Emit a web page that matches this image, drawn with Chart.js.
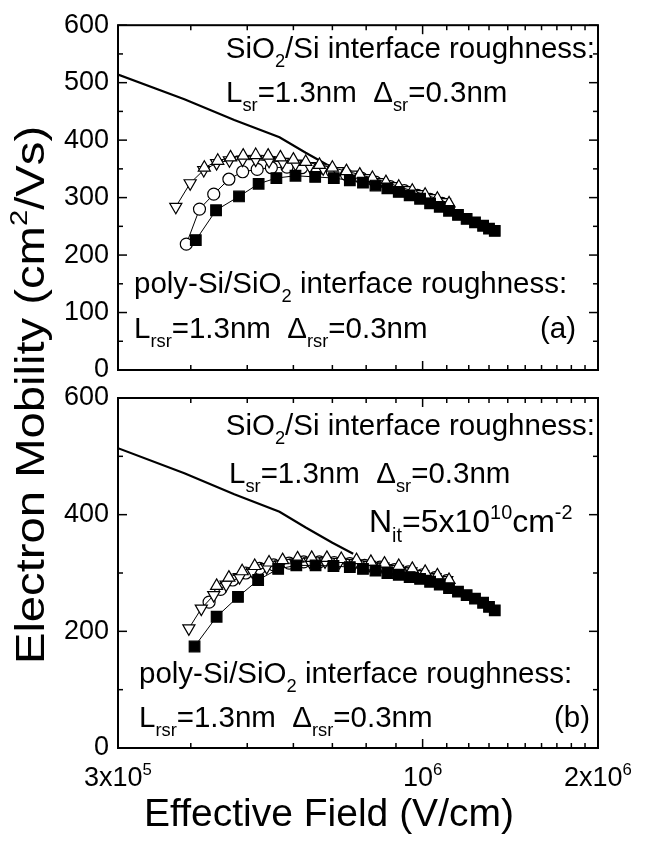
<!DOCTYPE html>
<html lang="en">
<head>
<meta charset="UTF-8">
<title>Electron mobility vs effective field</title>
<script src="https://cdn.jsdelivr.net/npm/chart.js"></script>
<style>
  html, body { margin: 0; padding: 0; background: #fff; }
  #wrap { position: relative; width: 658px; height: 842px; }
  #wrap canvas { position: absolute; left: 0; top: 0; }
</style>
</head>
<body>
<div id="wrap">
  <canvas id="chartA" width="658" height="842"></canvas>
  <canvas id="chartB" width="658" height="842"></canvas>
</div>
<script>
// universal mobility curve (solid line), same in both panels
const univField = [3.0e5, 3.9e5, 4.75e5, 5.68e5, 6.3e5, 7.0e5, 7.6e5];
const univMob   = [514, 471, 435, 405, 378, 352, 333];

// panel (a)
const aSqField = [4.08e5, 4.42e5, 4.84e5, 5.23e5, 5.61e5, 6.05e5, 6.54e5, 7.04e5, 7.5e5, 7.9e5, 8.3e5, 8.7e5, 9.1e5, 9.5e5, 9.9e5, 1.03e6, 1.07e6, 1.11e6, 1.15e6, 1.19e6, 1.23e6, 1.27e6, 1.30e6, 1.33e6];
const aSqMob   = [226, 278, 302, 324, 334, 338, 336, 334, 330, 326, 321, 316, 310, 304, 298, 290, 284, 277, 270, 263, 257, 251, 246, 242];
const aCiField = [3.93e5, 4.14e5, 4.38e5, 4.65e5, 4.91e5, 5.2e5, 5.5e5, 5.85e5, 6.2e5, 6.6e5, 7.0e5, 7.4e5, 7.85e5, 8.3e5, 8.8e5, 9.3e5, 9.8e5, 1.03e6, 1.08e6];
const aCiMob   = [219, 280, 306, 332, 345, 349, 352, 353, 352, 349, 345, 340, 334, 327, 319, 312, 304, 297, 290];
const aUpField = [4.22e5, 4.45e5, 4.68e5, 4.92e5, 5.17e5, 5.43e5, 5.7e5, 6.0e5, 6.3e5, 6.65e5, 7.0e5, 7.4e5, 7.8e5, 8.2e5, 8.65e5, 9.1e5, 9.6e5, 1.01e6, 1.06e6, 1.11e6];
const aUpMob   = [352, 364, 370, 373, 374, 373, 370, 366, 362, 357, 352, 346, 340, 334, 327, 319, 312, 305, 298, 290];
const aDnField = [3.77e5, 3.99e5, 4.21e5, 4.43e5, 4.66e5, 4.91e5, 5.17e5, 5.45e5, 5.75e5, 6.05e5, 6.4e5, 6.75e5, 7.15e5, 7.55e5, 8.0e5, 8.45e5, 8.9e5, 9.4e5, 9.9e5, 1.04e6, 1.09e6];
const aDnMob   = [284, 325, 348, 360, 365, 366, 366, 364, 362, 359, 355, 351, 346, 340, 334, 327, 320, 313, 306, 299, 292];

// panel (b), Nit = 5e10 cm^-2
const bSqField = [4.06e5, 4.43e5, 4.82e5, 5.22e5, 5.65e5, 6.07e5, 6.55e5, 7.03e5, 7.5e5, 7.9e5, 8.3e5, 8.7e5, 9.1e5, 9.5e5, 9.9e5, 1.03e6, 1.07e6, 1.11e6, 1.15e6, 1.19e6, 1.23e6, 1.27e6, 1.30e6, 1.33e6];
const bSqMob   = [174, 225, 259, 288, 307, 313, 313, 312, 310, 307, 304, 300, 297, 293, 290, 285, 280, 274, 268, 262, 256, 249, 242, 236];
const bCiField = [4.3e5, 4.5e5, 4.72e5, 4.97e5, 5.25e5, 5.55e5, 5.9e5, 6.25e5, 6.65e5, 7.05e5, 7.5e5, 7.95e5, 8.45e5, 8.95e5, 9.45e5, 1.0e6, 1.05e6, 1.1e6];
const bCiMob   = [250, 272, 288, 300, 308, 314, 317, 319, 319, 318, 316, 313, 310, 306, 302, 297, 292, 287];
const bUpField = [4.43e5, 4.65e5, 4.9e5, 5.15e5, 5.45e5, 5.75e5, 6.1e5, 6.45e5, 6.85e5, 7.25e5, 7.7e5, 8.15e5, 8.6e5, 9.1e5, 9.6e5, 1.01e6, 1.06e6, 1.11e6];
const bUpMob   = [278, 292, 303, 312, 318, 322, 325, 326, 326, 324, 322, 319, 316, 312, 307, 302, 296, 288];
const bDnField = [3.97e5, 4.17e5, 4.38e5, 4.6e5, 4.85e5, 5.1e5, 5.4e5, 5.7e5, 6.05e5, 6.4e5, 6.8e5, 7.2e5, 7.65e5, 8.1e5, 8.55e5, 9.05e5, 9.55e5, 1.0e6, 1.05e6, 1.1e6];
const bDnMob   = [205, 239, 262, 280, 293, 303, 310, 315, 318, 320, 320, 319, 317, 314, 311, 307, 303, 298, 293, 288];

// axes
const xLabelTicks = [3e5, 1e6, 2e6];
const xMinorTicks = [4e5, 5e5, 6e5, 7e5, 8e5, 9e5, 1.1e6, 1.2e6, 1.3e6, 1.4e6, 1.5e6, 1.6e6, 1.7e6, 1.8e6, 1.9e6];

const FONT = '"Liberation Sans", Arial, Helvetica, sans-serif';

function pts(xs, ys) { return xs.map((v, i) => ({ x: v, y: ys[i] })); }

// draw text with sub/superscripts; parts = [[text, ''|'sub'|'sup'], ...]
function drawRich(ctx, parts, x, y, size, align) {
  const fontFor = k => (k ? size * 0.62 : size) + 'px ' + FONT;
  const widths = parts.map(([t, k]) => { ctx.font = fontFor(k); return ctx.measureText(t).width; });
  const total = widths.reduce((s, w) => s + w, 0);
  let cx = align === 'right' ? x - total : align === 'center' ? x - total / 2 : x;
  ctx.textAlign = 'left';
  ctx.textBaseline = 'alphabetic';
  ctx.fillStyle = '#000';
  parts.forEach(([t, k], i) => {
    ctx.font = fontFor(k);
    const dy = k === 'sub' ? size * 0.3 : k === 'sup' ? -size * 0.42 : 0;
    ctx.fillText(t, cx, y + dy);
    cx += widths[i];
  });
}

function datasetsFor(sqX, sqY, ciX, ciY, upX, upY, dnX, dnY) {
  const common = { showLine: true, borderColor: '#000', borderWidth: 1, pointBorderWidth: 1.2 };
  return [
    Object.assign({ data: pts(sqX, sqY), pointStyle: 'rect', pointRadius: 7.5, pointBackgroundColor: '#000' }, common),
    Object.assign({ data: pts(upX, upY), pointStyle: 'triangle', pointRadius: 7, pointBackgroundColor: '#fff' }, common),
    Object.assign({ data: pts(dnX, dnY), pointStyle: 'triangle', pointRotation: 180, pointRadius: 7, pointBackgroundColor: '#fff' }, common),
    Object.assign({ data: pts(ciX, ciY), pointStyle: 'circle', pointRadius: 6, pointBackgroundColor: '#fff' }, common),
    { data: pts(univField, univMob), showLine: true, borderColor: '#000', borderWidth: 2.2, pointRadius: 0 }
  ];
}

// frame with inward ticks on all four sides, plus the panel's texts
const panelPlugin = {
  id: 'panel',
  afterDraw(chart, args, opts) {
    const { ctx, chartArea: a, scales: { x, y } } = chart;
    ctx.save();
    ctx.strokeStyle = '#000';
    ctx.lineWidth = 1.5;
    const seg = (x1, y1, x2, y2) => { ctx.beginPath(); ctx.moveTo(x1, y1); ctx.lineTo(x2, y2); ctx.stroke(); };
    for (let v = 0; v <= 600; v += opts.yMinor) {
      const py = y.getPixelForValue(v);
      const len = v % opts.yMajor === 0 ? 9 : 5;
      seg(a.left, py, a.left + len, py);
      seg(a.right, py, a.right - len, py);
    }
    xMinorTicks.forEach(v => {
      const px = x.getPixelForValue(v);
      seg(px, a.bottom, px, a.bottom - 5);
      seg(px, a.top, px, a.top + 5);
    });
    xLabelTicks.forEach(v => {
      const px = x.getPixelForValue(v);
      seg(px, a.bottom, px, a.bottom - 9);
      seg(px, a.top, px, a.top + 9);
    });
    ctx.lineWidth = 2;
    ctx.strokeRect(a.left, a.top, a.right - a.left, a.bottom - a.top);
    opts.texts.forEach(t => drawRich(ctx, t.parts, t.x, t.y, t.size, t.align));
    if (opts.drawAxes) {
      xLabelTicks.forEach(v => {
        const px = x.getPixelForValue(v);
        const e = Math.floor(Math.log10(v));
        const m = Math.round(v / Math.pow(10, e));
        const parts = m === 1 ? [['10', ''], [String(e), 'sup']] : [[m + 'x10', ''], [String(e), 'sup']];
        drawRich(ctx, parts, px, 786, 27, 'center');
      });
      drawRich(ctx, [['Effective Field (V/cm)', '']], chart.width / 2, 826, 39, 'center');
    }
    if (opts.yTitle) {
      ctx.translate(44, 395);
      ctx.rotate(-Math.PI / 2);
      ctx.scale(1.18, 1);
      drawRich(ctx, [['Electron Mobility (cm', ''], ['2', 'sup'], ['/Vs)', '']], 0, 0, 40, 'center');
    }
    ctx.restore();
  }
};

function makeChart(id, datasets, pad, yStep, yMinor, texts, extra) {
  return new Chart(document.getElementById(id), {
    type: 'scatter',
    data: { datasets: datasets },
    options: {
      responsive: false,
      animation: false,
      layout: { padding: pad },
      plugins: {
        legend: { display: false },
        tooltip: { enabled: false },
        panel: Object.assign({ yMajor: yStep, yMinor: yMinor, texts: texts }, extra)
      },
      scales: {
        x: { type: 'logarithmic', min: 3e5, max: 2e6, display: false },
        y: {
          min: 0, max: 600,
          grid: { display: false, drawTicks: false },
          border: { display: false },
          ticks: { stepSize: yStep, color: '#000', padding: 9, font: { family: FONT, size: 27 } },
          afterFit(scale) { scale.width = 118; }
        }
      }
    },
    plugins: [panelPlugin]
  });
}

const SZ = 29.5;
const textsA = [
  { parts: [['SiO', ''], ['2', 'sub'], ['/Si interface roughness:', '']], x: 595, y: 58, size: SZ, align: 'right' },
  { parts: [['L', ''], ['sr', 'sub'], ['=1.3nm  \u0394', ''], ['sr', 'sub'], ['=0.3nm', '']], x: 226, y: 102, size: SZ, align: 'left' },
  { parts: [['poly-Si/SiO', ''], ['2', 'sub'], [' interface roughness:', '']], x: 134, y: 293, size: SZ, align: 'left' },
  { parts: [['L', ''], ['rsr', 'sub'], ['=1.3nm  \u0394', ''], ['rsr', 'sub'], ['=0.3nm', '']], x: 134, y: 338, size: SZ, align: 'left' },
  { parts: [['(a)', '']], x: 576, y: 338, size: SZ, align: 'right' }
];
const textsB = [
  { parts: [['SiO', ''], ['2', 'sub'], ['/Si interface roughness:', '']], x: 595, y: 435, size: SZ, align: 'right' },
  { parts: [['L', ''], ['sr', 'sub'], ['=1.3nm  \u0394', ''], ['sr', 'sub'], ['=0.3nm', '']], x: 229, y: 483, size: SZ, align: 'left' },
  { parts: [['N', ''], ['it', 'sub'], ['=5x10', ''], ['10', 'sup'], ['cm', ''], ['-2', 'sup']], x: 369, y: 532, size: 32, align: 'left' },
  { parts: [['poly-Si/SiO', ''], ['2', 'sub'], [' interface roughness:', '']], x: 139, y: 683, size: SZ, align: 'left' },
  { parts: [['L', ''], ['rsr', 'sub'], ['=1.3nm  \u0394', ''], ['rsr', 'sub'], ['=0.3nm', '']], x: 139, y: 727, size: SZ, align: 'left' },
  { parts: [['(b)', '']], x: 590, y: 727, size: SZ, align: 'right' }
];

makeChart('chartA',
  datasetsFor(aSqField, aSqMob, aCiField, aCiMob, aUpField, aUpMob, aDnField, aDnMob),
  { left: 0, right: 60, top: 20, bottom: 472 }, 100, 50, textsA, { yTitle: true });

makeChart('chartB',
  datasetsFor(bSqField, bSqMob, bCiField, bCiMob, bUpField, bUpMob, bDnField, bDnMob),
  { left: 0, right: 60, top: 398, bottom: 94 }, 200, 100, textsB, { drawAxes: true });
</script>
</body>
</html>
